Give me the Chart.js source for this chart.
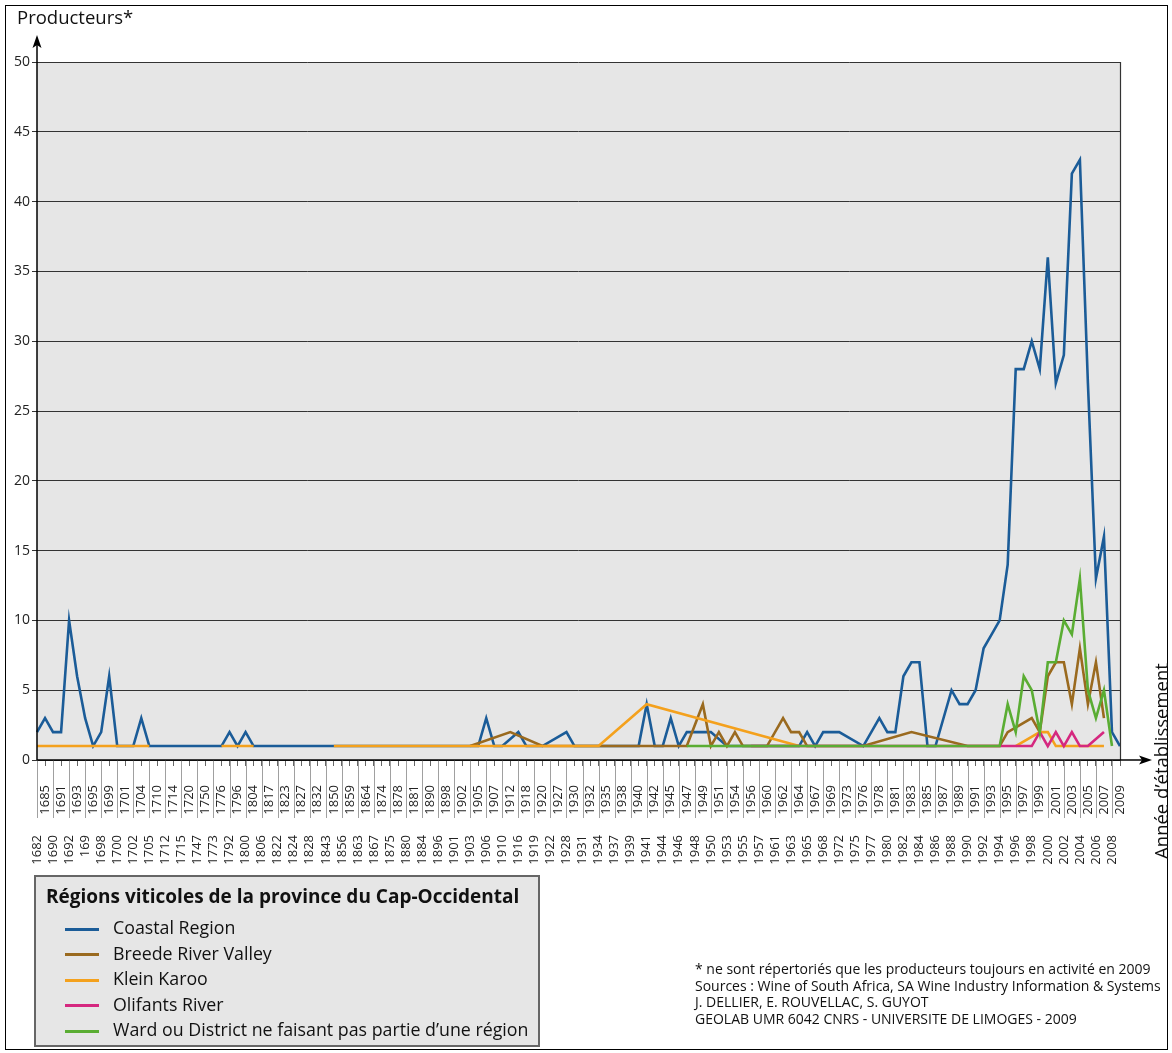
<!DOCTYPE html>
<html><head><meta charset="utf-8">
<script src="https://cdn.jsdelivr.net/npm/chart.js@4.4.0/dist/chart.umd.min.js"></script>
<style>
html,body{margin:0;padding:0;background:#fff;}
#wrap{position:relative;width:1172px;height:1053px;overflow:hidden;font-family:"Open Sans",sans-serif;color:#111;}
#frame{position:absolute;left:5px;top:5px;width:1163px;height:1045px;border:1px solid #000;box-sizing:border-box;}
#c{position:absolute;left:0;top:0;}
#ytitle{position:absolute;left:17px;top:4px;font-size:18.5px;}
#xtitle{position:absolute;left:1160px;top:761px;font-size:18.5px;white-space:nowrap;transform:translate(-50%,-50%) rotate(-90deg);}
#legend{position:absolute;left:34px;top:875px;width:506px;height:172px;background:#e6e6e6;border:2px solid #666;box-sizing:border-box;}
#legend .t{position:absolute;left:10px;top:6px;font-weight:bold;font-size:19px;white-space:nowrap;}
#legend .it{position:absolute;left:29px;font-size:17.8px;white-space:nowrap;}
#legend .it span{display:inline-block;width:34px;height:3px;vertical-align:middle;margin-right:14px;}
#note{position:absolute;left:695px;top:961px;font-size:14px;line-height:16.7px;white-space:nowrap;}
</style></head>
<body><div id="wrap">
<canvas id="c" width="1172" height="1053"></canvas>
<div id="frame"></div>
<div id="ytitle">Producteurs*</div>
<div id="xtitle">Année d’établissement</div>
<div id="legend"><div class="t">Régions viticoles de la province du Cap-Occidental</div></div>
<div id="note">* ne sont répertoriés que les producteurs toujours en activité en 2009<br>Sources : Wine of South Africa, SA Wine Industry Information &amp; Systems<br>J. DELLIER, E. ROUVELLAC, S. GUYOT<br>GEOLAB UMR 6042 CNRS - UNIVERSITE DE LIMOGES - 2009</div>
</div>
<script>
const years = ["1682","1685","1690","1691","1692","1693","169","1695","1698","1699","1700","1701","1702","1704","1705","1710","1712","1714","1715","1720","1747","1750","1773","1776","1792","1796","1800","1804","1806","1817","1822","1823","1824","1827","1828","1832","1843","1850","1856","1859","1863","1864","1867","1874","1875","1878","1880","1881","1884","1890","1896","1898","1901","1902","1903","1905","1906","1907","1910","1912","1916","1918","1919","1920","1922","1927","1928","1930","1931","1932","1934","1935","1937","1938","1939","1940","1941","1942","1944","1945","1946","1947","1948","1949","1950","1951","1953","1954","1955","1956","1957","1960","1961","1962","1963","1964","1965","1967","1968","1969","1972","1973","1975","1976","1977","1978","1980","1981","1982","1983","1984","1985","1986","1987","1988","1989","1990","1991","1992","1993","1994","1995","1996","1997","1998","1999","2000","2001","2002","2003","2004","2005","2006","2007","2008","2009"];

const seriesNames = ["Coastal Region","Breede River Valley","Klein Karoo","Olifants River","Ward ou District ne faisant pas partie d’une région"];
const seriesColors = ["#1b5c98","#9a6a1f","#f4a11d","#d5287f","#5aad33"];

const _ = null;
// Coastal Region
const coastal = [2,3,2,2,10,6,3,1,2,6, 1,1,1,3,1,1,1,1,1,1, 1,1,1,1,2,1,2,1,1,1, 1,1,1,1,1,1,1,1,_,_,
 _,_,_,_,_,_,_,_,_,_, _,_,_,_,_,1,3,1,1,_, 2,1,1,1,_,_,2,1,_,_,
 1,1,1,1,1,1,4,1,1,3, 1,2,2,2,2,_,1,1,1,1, 1,1,1,1,1,1,2,1,2,2,
 2,_,_,1,_,3,2,2,6,7, 7,1,1,_,5,4,4,5,8,9, 10,14,28,28,30,28,36,27,29,42, 43,27,13,16,2,1];
// Breede River Valley
const breede = [_,_,_,_,_,_,_,_,_,_, _,_,_,_,_,_,_,_,_,_, _,_,_,_,_,_,_,_,_,_, _,_,_,_,_,_,_,_,_,_,
 _,_,_,_,_,_,_,_,_,_, _,_,_,_,1,_,_,_,_,2, _,_,_,1,_,_,_,_,_,_,
 _,_,_,_,_,_,_,_,_,_, _,1,_,4,1,2,1,2,1,_, _,1,_,3,2,2,1,_,_,_,
 _,_,_,1,_,_,_,_,_,2, _,_,_,_,_,_,1,_,_,_, 1,2,_,_,3,2,6,7,7,4, 8,4,7,3,_,_];
// Klein Karoo
const klein = [1,1,1,1,1,1,1,1,1,1, 1,1,1,1,1,_,_,_,_,_, _,_,_,1,1,1,1,1,_,_, _,_,_,_,_,_,_,1,1,1,
 1,1,1,1,1,1,1,1,1,1, 1,1,1,1,1,1,1,1,1,1, 1,1,1,1,1,1,1,1,1,1,
 1,_,_,_,_,_,4,_,_,_, _,_,_,_,_,_,_,_,_,_, _,_,_,_,_,1,_,_,_,_,
 _,_,_,_,_,_,_,_,_,_, _,_,_,_,_,_,_,_,_,_, _,_,1,_,_,2,2,1,1,1, 1,1,1,1,_,_];
// Olifants River
const olifants = [_,_,_,_,_,_,_,_,_,_, _,_,_,_,_,_,_,_,_,_, _,_,_,_,_,_,_,_,_,_, _,_,_,_,_,_,_,_,_,_,
 _,_,_,_,_,_,_,_,_,_, _,_,_,_,_,_,_,_,_,_, _,_,_,_,_,_,_,_,_,_,
 _,_,_,_,_,_,_,_,_,_, _,_,_,_,_,_,_,_,_,1, _,_,_,_,_,_,_,_,_,_,
 _,_,_,_,_,_,_,_,_,_, _,_,_,_,_,_,_,_,_,_, _,_,_,_,1,2,1,2,1,2, 1,1,_,2,_,_];
// Ward ou District
const ward = [_,_,_,_,_,_,_,_,_,_, _,_,_,_,_,_,_,_,_,_, _,_,_,_,_,_,_,_,_,_, _,_,_,_,_,_,_,_,_,_,
 _,_,_,_,_,_,_,_,_,_, _,_,_,_,_,_,_,_,_,_, _,_,_,_,_,_,_,_,_,_,
 _,_,_,_,_,_,_,_,_,_, _,1,_,_,_,_,1,_,_,_, _,_,_,_,_,_,_,_,_,_,
 _,_,_,_,_,_,_,_,_,_, _,_,_,_,_,_,_,_,_,_, 1,4,2,6,5,2,7,7,10,9, 13,5,3,5,1,_];

const yTicks = [0,5,10,15,20,25,30,35,40,45,50];

const allData = [coastal, breede, klein, olifants, ward];

const lg = document.getElementById('legend');
seriesNames.forEach((n,i)=>{
  const d=document.createElement('div'); d.className='it'; d.style.top=(38+i*25.5)+'px';
  d.innerHTML='<span style="background:'+seriesColors[i]+'"></span>'+n; lg.appendChild(d);
});

const bgPlugin = {id:'bg', beforeDraw(chart){
  const {ctx, chartArea:a} = chart; ctx.save(); ctx.fillStyle='#e6e6e6';
  ctx.fillRect(a.left,a.top,a.right-a.left,a.bottom-a.top); ctx.restore();
}};
const axesPlugin = {id:'axesDeco', afterDraw(chart){
  const {ctx, chartArea:a} = chart; const xs = chart.scales.x; ctx.save();
  ctx.strokeStyle='#a0a0a0'; ctx.lineWidth=1;
  for(let i=0;i<years.length;i+=2){
    const px = Math.round(xs.getPixelForValue(i))+0.5;
    ctx.beginPath(); ctx.moveTo(px,a.bottom); ctx.lineTo(px,a.bottom+58); ctx.stroke();
  }
  ctx.strokeStyle='#333'; ctx.lineWidth=1.2;
  ctx.beginPath(); ctx.moveTo(a.right+0.5,a.top); ctx.lineTo(a.right+0.5,a.bottom); ctx.stroke();
  ctx.strokeStyle='#000'; ctx.lineWidth=1.5;
  ctx.beginPath(); ctx.moveTo(a.left,a.bottom); ctx.lineTo(a.left,40); ctx.stroke();
  ctx.beginPath(); ctx.moveTo(a.left,a.bottom); ctx.lineTo(1142,a.bottom); ctx.stroke();
  ctx.fillStyle='#000';
  ctx.beginPath(); ctx.moveTo(a.left,35); ctx.lineTo(a.left-4.5,48); ctx.lineTo(a.left,45); ctx.lineTo(a.left+4.5,48); ctx.closePath(); ctx.fill();
  ctx.beginPath(); ctx.moveTo(1152,a.bottom); ctx.lineTo(1139,a.bottom-4.5); ctx.lineTo(1142,a.bottom); ctx.lineTo(1139,a.bottom+4.5); ctx.closePath(); ctx.fill();
  ctx.restore();
}};

// Klein Karoo: a run at 1 is not bridged across unlisted years
const hideFlatGap = (ctx) => {
  const d = allData[ctx.datasetIndex];
  if (d[ctx.p0DataIndex] !== null && d[ctx.p1DataIndex] !== null) return undefined;
  let a = ctx.p0DataIndex; while (a >= 0 && d[a] === null) a--;
  let b = ctx.p1DataIndex; while (b < d.length && d[b] === null) b++;
  return (a >= 0 && b < d.length && d[a] === 1 && d[b] === 1) ? 'rgba(0,0,0,0)' : undefined;
};

const orderOf = [4,3,2,1,0];
new Chart(document.getElementById('c'), {
  type:'line',
  data:{labels:years, datasets: allData.map((d,i)=>({label:seriesNames[i], data:d, borderColor:seriesColors[i], backgroundColor:seriesColors[i], borderWidth:2.6, pointRadius:0, spanGaps:true, tension:0, order:orderOf[i], xAxisID:'x',
    segment: (i===2 ? {borderColor: hideFlatGap} : {})}))},
  options:{
    responsive:false, animation:false, devicePixelRatio:1,
    layout:{padding:{left:0,top:62,right:52,bottom:0}},
    plugins:{legend:{display:false}, tooltip:{enabled:false}},
    scales:{
      x:{type:'category', offset:false, weight:0,
        grid:{display:true, drawOnChartArea:false, tickLength:6, color:'#666'},
        border:{display:false},
        ticks:{autoSkip:false, minRotation:90, maxRotation:90, padding:19, font:{family:'Open Sans', size:13}, color:'#222',
          callback:(v,i)=> (i%2===1 ? years[i] : '')},
        afterFit:(s)=>{s.height=55;}
      },
      x2:{type:'category', position:'bottom', offset:false, weight:1,
        grid:{display:false}, border:{display:false},
        ticks:{autoSkip:false, minRotation:90, maxRotation:90, padding:12, font:{family:'Open Sans', size:13}, color:'#222',
          callback:(v,i)=> (i%2===0 ? years[i] : '')},
        afterFit:(s)=>{s.height=238;}
      },
      y:{min:0, max:50, afterBuildTicks:(s)=>{s.ticks = yTicks.map(v=>({value:v}));},
        grid:{color:'#333', lineWidth:1, tickLength:5, drawTicks:true},
        border:{display:false},
        ticks:{padding:2, font:{family:'Open Sans', size:14}, color:'#222'},
        afterFit:(s)=>{s.width=37;}
      }
    }
  },
  plugins:[bgPlugin, axesPlugin]
});
</script>
</body></html>
